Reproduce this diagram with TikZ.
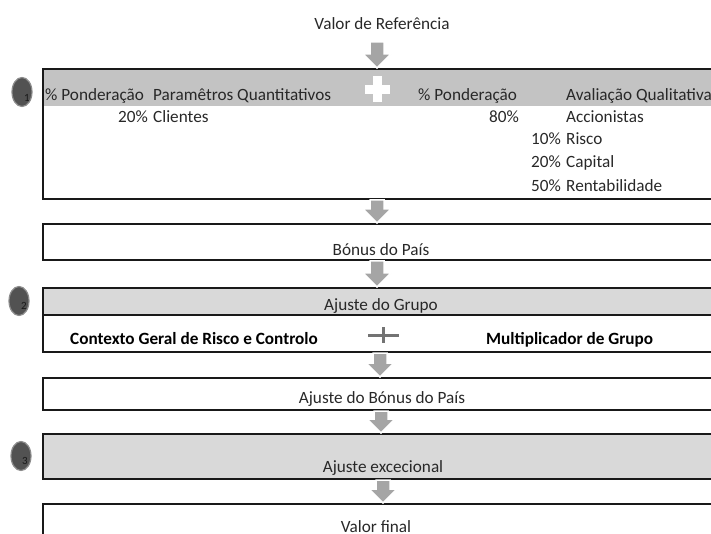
\documentclass[tikz,border=0pt]{standalone}
\usepackage{fontspec}
\setmainfont{Carlito}
\usetikzlibrary{calc,shapes.geometric}

\definecolor{hdrdark}{RGB}{195,195,195}
\definecolor{hdrlight}{RGB}{217,217,217}
\definecolor{arrowgray}{RGB}{165,165,165}
\definecolor{linegray}{RGB}{25,25,25}
\definecolor{txt}{RGB}{40,40,40}

\tikzset{
  box/.style={draw=linegray, line width=2pt, rectangle, minimum width=700pt, anchor=north west, inner sep=0pt},
  marker/.style={ellipse, fill=black!68, draw=black!45, line width=1.2pt, minimum width=20pt, minimum height=29pt, inner sep=0pt},
  lbl/.style={inner sep=0pt, text=txt, font=\fontsize{17.2}{20}\selectfont},
  blbl/.style={lbl, text=black, font=\fontsize{17.2}{20}\selectfont\bfseries},
  num/.style={inner sep=0pt, text=black!90, font=\fontsize{11}{12}\selectfont}
}

% block arrow from #1 down to tip #2
\newcommand\blkarrow[2]{%
  \coordinate (s) at (#1);
  \coordinate (e) at (#2);
  \filldraw[arrowgray, draw=white, line width=1.5pt]
    ($(s)+(-7,0)$) -- ($(e)+(-7,-14)$) -- ($(e)+(-14,-14)$) -- (e)
    -- ($(e)+(14,-14)$) -- ($(e)+(7,-14)$) -- ($(s)+(7,0)$) -- cycle;
}

\begin{document}
\begin{tikzpicture}[x=1pt,y=-1pt]
\useasboundingbox (0,0) rectangle (711,534);
\clip (0,0) rectangle (711,534);

% shaded bands
\fill[hdrdark] (42,68) rectangle (745,106);
\fill[hdrlight] (42,287) rectangle (745,315);
\fill[hdrlight] (42,433) rectangle (745,478);

% boxes
\node[box, minimum height=130pt] (b1) at (42,68) {};
\node[box, minimum height=36pt] (b2) at (42,223) {};
\node[box, minimum height=64pt] (b3) at (42,287) {};
\draw[linegray, line width=2pt] (42,315) -- (745,315);
\node[box, minimum height=32pt] (b4) at (42,377) {};
\node[box, minimum height=45pt] (b5) at (42,433) {};
\node[box, minimum height=41pt] (b6) at (42,503) {};

% step markers
\node[marker] (m1) at (22,92) {};
\node[marker] (m2) at (19,301) {};
\node[marker] (m3) at (21,456) {};
\node[num] at (27,98) {1};
\node[num] at (24,306) {2};
\node[num] at (25,461) {3};

% texts
\node[lbl] (t) at (382,24) {Valor de Referência};

\node[lbl, anchor=mid west] (h1) at (45,98) {\% Ponderação};
\node[lbl, anchor=mid west] (h2) at (153,98) {Paramêtros Quantitativos};
\node[lbl, anchor=mid west] (h3) at (418,98) {\% Ponderação};
\node[lbl, anchor=mid west] (h4) at (566,98) {Avaliação Qualitativa};

\node[lbl, anchor=mid east] at (148,120) {20\%};
\node[lbl, anchor=mid west] at (153,120) {Clientes};
\node[lbl, anchor=mid east] at (519,120) {80\%};
\node[lbl, anchor=mid west] at (566,120) {Accionistas};
\node[lbl, anchor=mid east] at (561,142) {10\%};
\node[lbl, anchor=mid west] at (566,142) {Risco};
\node[lbl, anchor=mid east] at (561,165) {20\%};
\node[lbl, anchor=mid west] at (566,165) {Capital};
\node[lbl, anchor=mid east] at (561,189) {50\%};
\node[lbl, anchor=mid west] at (566,189) {Rentabilidade};

\node[lbl] (l2) at (381,250) {Bónus do País};
\node[lbl] (l3) at (381,306) {Ajuste do Grupo};
\node[blbl, anchor=mid west] (c1) at (70,342) {Contexto Geral de Risco e Controlo};
\node[blbl, anchor=mid west] (c2) at (486,342) {Multiplicador de Grupo};
\node[lbl] (l4) at (382,399) {Ajuste do Bónus do País};
\node[lbl] (l5) at (383,468) {Ajuste excecional};
\node[lbl] (l6) at (376,527) {Valor final};

% plus signs
\fill[white] (373,76) rectangle (382,102);
\fill[white] (365,85) rectangle (390,94);
\fill[black!55] (367.5,333.5) rectangle (398.5,336.5);
\fill[black!55] (381.5,327) rectangle (384.5,343);

% arrows
\coordinate (a0) at (377,42);
\coordinate (x1) at (377,0);
\coordinate (x2) at (380,0);
\coordinate (x3) at (381,0);
\coordinate (x4) at (383,0);
\blkarrow{a0}{b1.north -| a0}
\blkarrow{b1.south -| x1}{b2.north -| x1}
\blkarrow{b2.south -| x1}{b3.north -| x1}
\blkarrow{b3.south -| x2}{b4.north -| x2}
\blkarrow{b4.south -| x3}{b5.north -| x3}
\blkarrow{b5.south -| x4}{b6.north -| x4}
\end{tikzpicture}
\end{document}
